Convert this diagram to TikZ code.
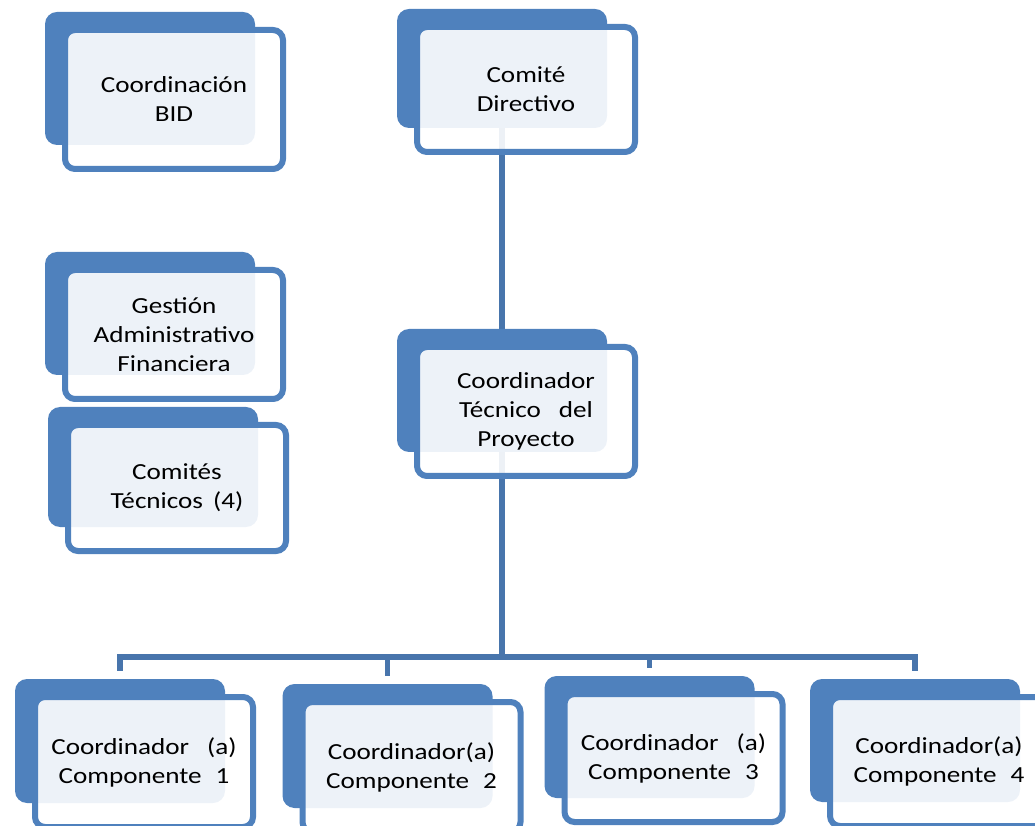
\documentclass[tikz,border=0pt]{standalone}
\usepackage{fontspec}
\setmainfont{Carlito}[FakeStretch=1.18]
\usetikzlibrary{backgrounds}
\definecolor{boxblue}{RGB}{79,129,189}
\definecolor{linkblue}{RGB}{72,117,172}
\tikzset{
backbox/.style={fill=boxblue, rounded corners=12pt, inner sep=0pt, outer sep=0pt, minimum width=210pt},
frontbox/.style={draw=boxblue, line width=6pt, fill=white, fill opacity=0.9, text opacity=1,
  rounded corners=10pt, minimum width=218pt, align=center, font=\fontsize{23pt}{29pt}\selectfont},
link/.style={draw=linkblue, line width=5.5pt}
}

\begin{document}
\begin{tikzpicture}[x=1pt, y=1pt]
    \useasboundingbox (0,0) rectangle (1035,825);
    \foreach \n/\x/\y/\h/\txt in {
        bid/150/746.5/133/{Coordinación\\BID},
        dir/502/756.5/119/{Comité\\Directivo},
        gaf/150/511.5/123/{Gestión\\Administrativo\\Financiera},
        ct/153/358/120/{Comités\\Técnicos\hspace{10pt}(4)},
        ctp/502/434.5/123/{Coordinador\\Técnico\hspace{18pt}del\\Proyecto},
        c1/120/84/124/{Coordinador\hspace{18pt}(a)\\Componente\hspace{14pt}1},
        c2/387.5/79/124/{Coordinador(a)\\Componente\hspace{14pt}2},
        c3/649.5/88/122/{Coordinador\hspace{18pt}(a)\\Componente\hspace{14pt}3},
        c4/915/84.5/123/{Coordinador(a)\\Componente\hspace{14pt}4}} {
      \node[backbox, minimum height=\h*1pt] (\n-b) at (\x,\y) {};
      \node[frontbox, minimum height=\h*1pt+6pt] (\n) at ([shift={(24,-21)}]\n-b) {\txt};
    }
    \coordinate (bus) at (502,168);
    \begin{scope}[on background layer]
      \draw[link] (dir-b) -- (ctp-b);
      \draw[link] (ctp-b) -- (bus);
      \foreach \c in {c1,c2,c3,c4}
        \draw[link] (bus) -| ([yshift=8pt]\c-b.north);
    \end{scope}
\end{tikzpicture}
\end{document}
